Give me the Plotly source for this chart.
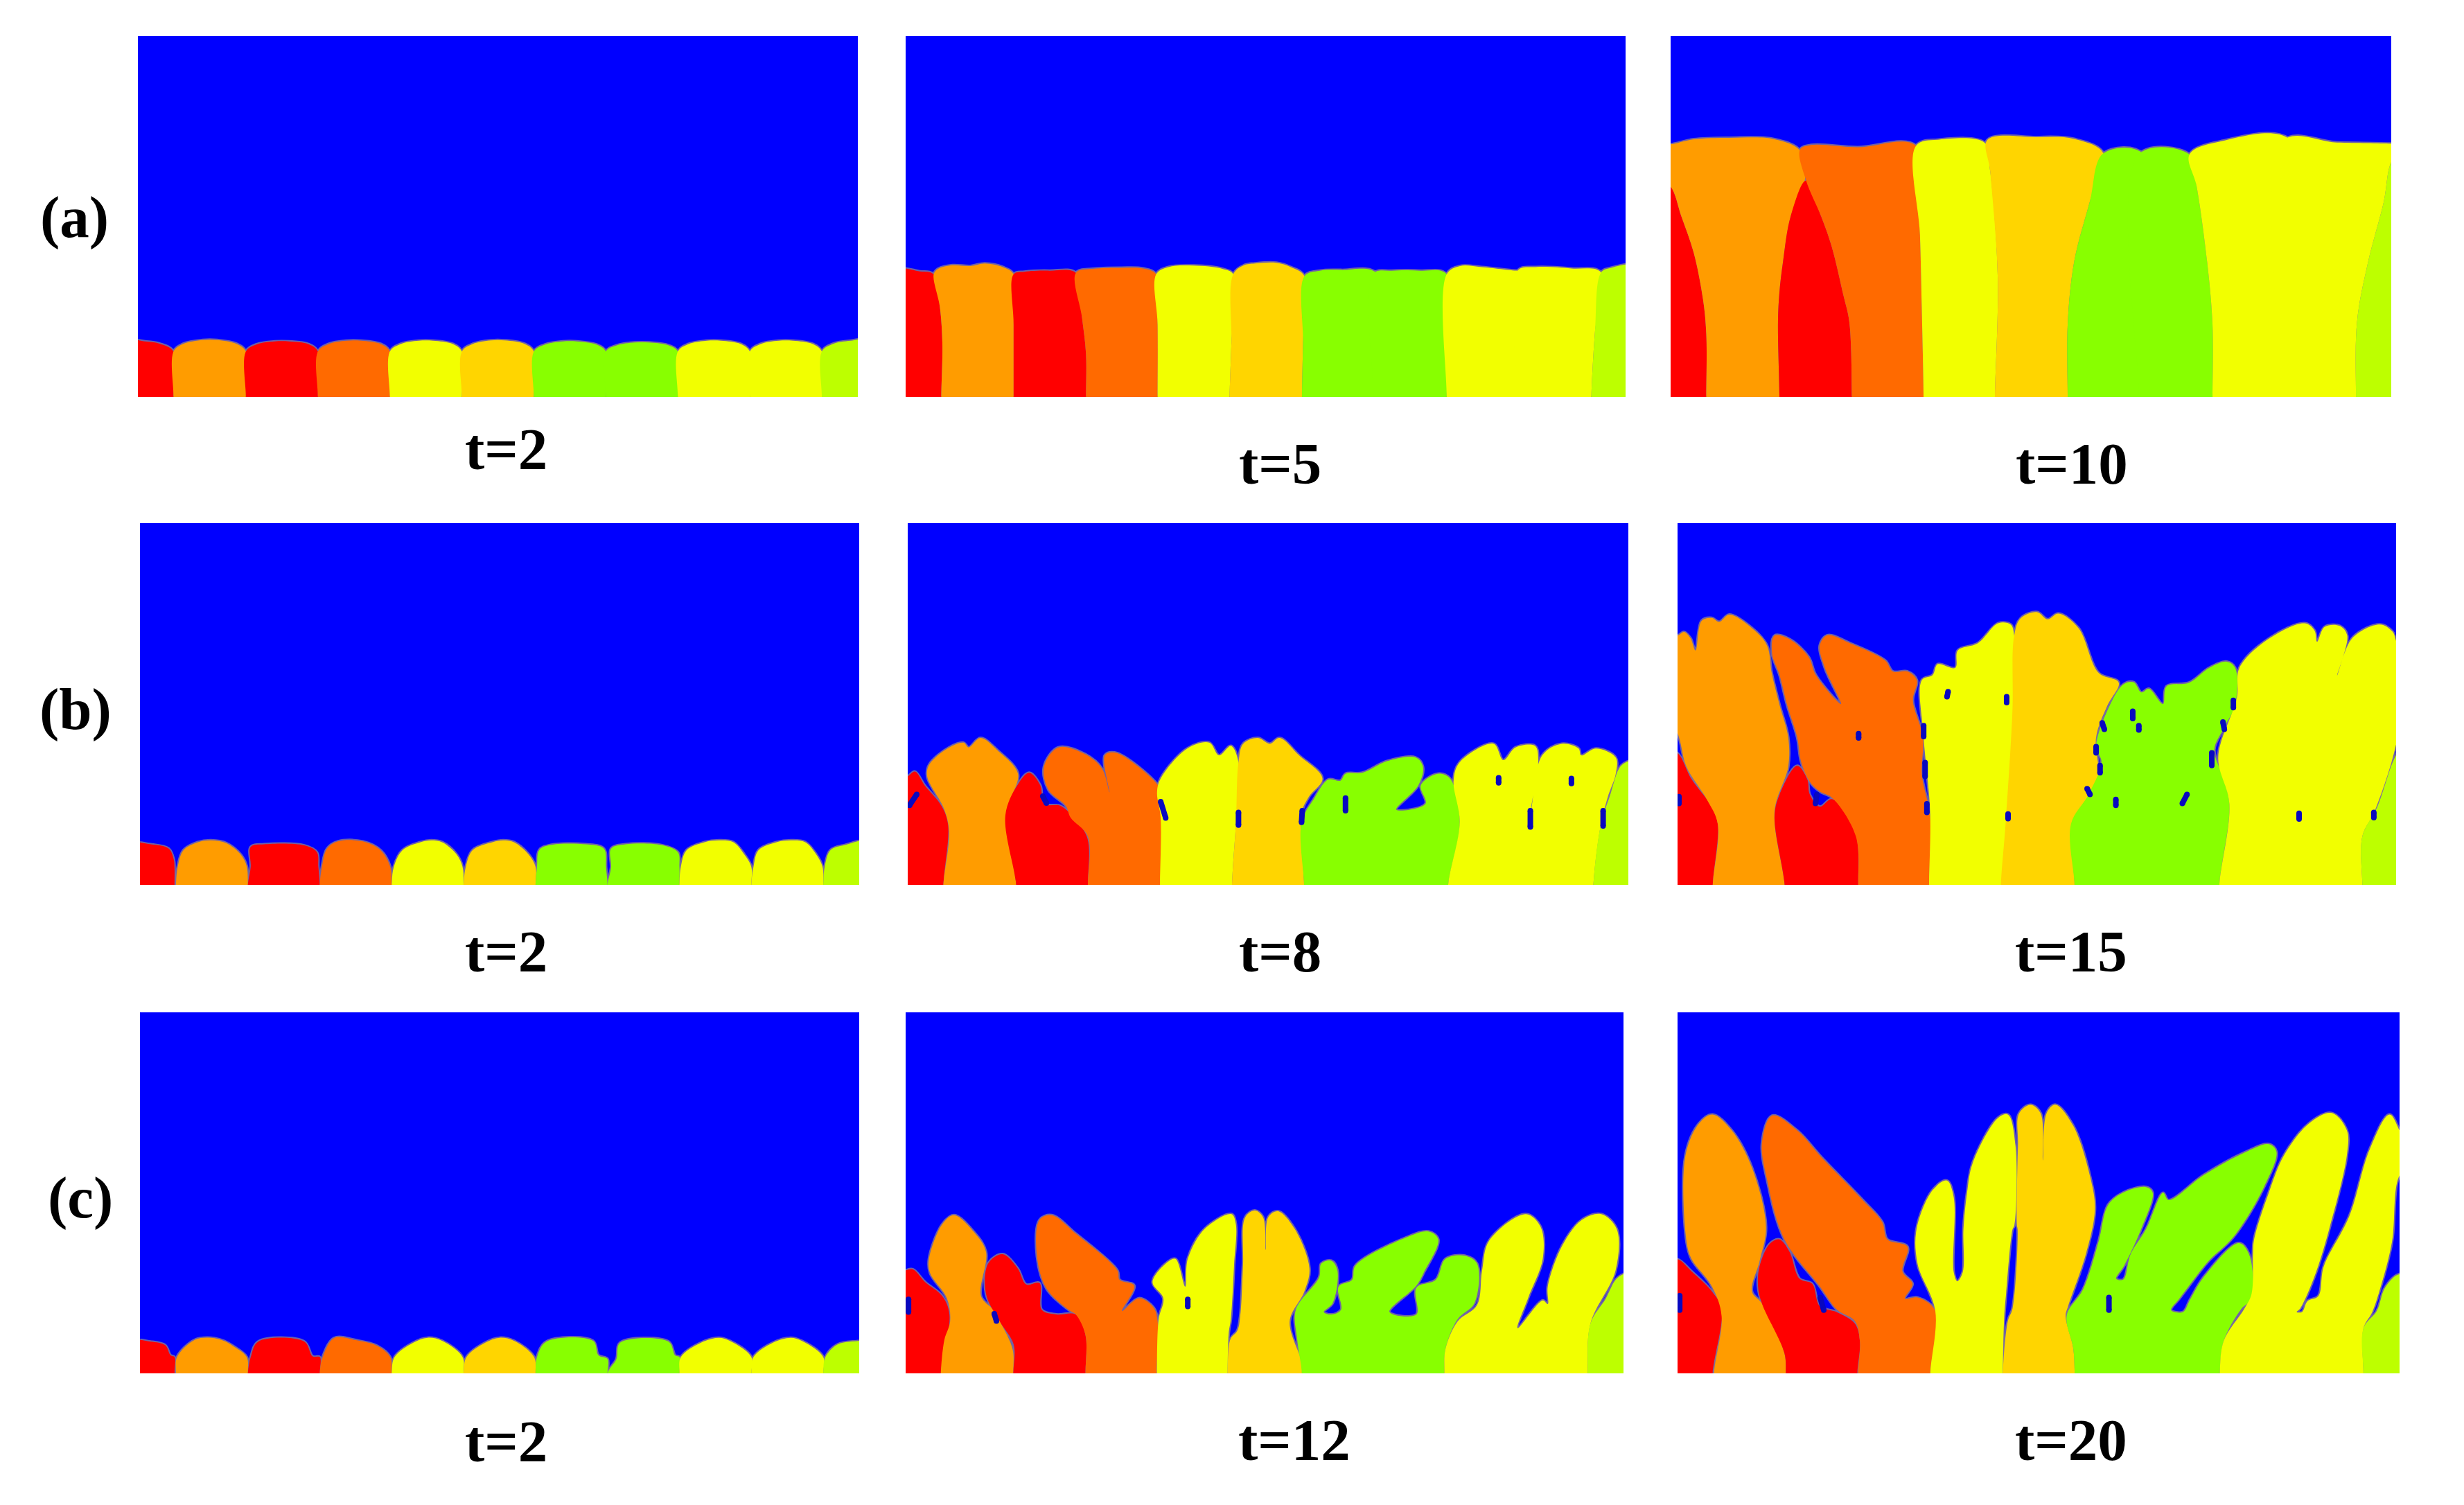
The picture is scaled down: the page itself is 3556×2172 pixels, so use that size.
import plotly.graph_objects as go

# grain colours, left to right along the base
grain_colors = ["#FF0000", "#FF9C00", "#FF0000", "#FF6A00", "#F2FF00", "#FFD500",
                "#88FF00", "#88FF00", "#F2FF00", "#F2FF00", "#BDFF00"]
blue = "#0000FF"

time_labels = ["t=2", "t=5", "t=10", "t=2", "t=8", "t=15", "t=2", "t=12", "t=20"]
row_labels = ["(a)", "(b)", "(c)"]

# grain outlines: box is 200 wide, 100 high
a2 = [
    [(-3,0),(-3,15.4),(2,15.4),(6,14.8),(9.9,12.6),(9.9,0)],
    [(9.9,0),(9.9,12.6),(12.5,14.7),(18,15.8),(22,15.8),(27.5,14.7),(30,12.6),(30,0)],
    [(30,0),(30,12.6),(33,14.6),(38,15.4),(42,15.4),(47.5,14.6),(50,12.6),(50,0)],
    [(50,0),(50,12.6),(53,14.7),(58,15.6),(62,15.6),(67.5,14.7),(70,12.6),(70,0)],
    [(70,0),(70,12.6),(73,14.7),(78,15.6),(82,15.6),(87.5,14.7),(90,12.6),(90,0)],
    [(90,0),(90,12.6),(93,14.7),(98,15.7),(102,15.7),(107.5,14.7),(110,12.6),(110,0)],
    [(110,0),(110,12.6),(113,14.5),(118,15.4),(122,15.4),(127.5,14.5),(130,12.6),(130,0)],
    [(130,0),(130,12.6),(133,14.3),(138,15.1),(142,15.1),(147.5,14.3),(150,12.6),(150,0)],
    [(150,0),(150,12.6),(153,14.7),(158,15.6),(162,15.6),(167.5,14.7),(170,12.6),(170,0)],
    [(170,0),(170,12.6),(173,14.7),(178,15.6),(182,15.6),(187.5,14.7),(190,12.6),(190,0)],
    [(190,0),(190,12.6),(193,14.7),(198,15.6),(203,15.6),(203,0)],
]
a5 = [
    [(-3,0),(-3,35),(4,34.8),(7.8,34),(9.5,25),(10.2,15),(9.9,0)],
    [(9.9,0),(10.2,15),(9.5,25),(7.8,34),(9,35.5),(13,36.5),(18,36.3),(22,37),(27,36),(30,34),(30,20),(30,0)],
    [(30,0),(30,20),(30,34),(33,34.7),(40,35),(47.3,34.4),(49,22),(50.1,12),(50.1,0)],
    [(50.1,0),(50.1,12),(49,22),(47.3,34.4),(52,35.5),(60,35.8),(66,35.6),(69.6,34),(70,20),(70,0)],
    [(70,0),(70,20),(69.6,34),(73,36),(80,36.4),(88,35.5),(91,34),(90.5,15),(90,0)],
    [(90,0),(90.5,15),(91,34),(94,36.5),(97,37),(103,37.2),(107,36),(110.8,33.5),(110.4,15),(110.1,0)],
    [(110.1,0),(110.4,15),(110.8,33.5),(115,35),(121,35.2),(131,34.2),(131,0)],
    [(130,0),(130,34.2),(135,35),(143,35),(150.3,34),(150.3,0)],
    [(150.3,0),(150.3,34),(154,36.3),(160,36),(170,35),(172,35),(172,0)],
    [(170,0),(170,35),(175,36),(185,35.6),(193.2,34.5),(191.5,18),(190.5,0)],
    [(190.5,0),(191.5,18),(193.2,34.5),(196,35.8),(203,36),(203,0)],
]
a10 = [
    [(-3,0),(-3,60),(0,58.3),(3,50),(6.4,40),(9,27),(9.9,17.5),(9.9,0)],
    [(9.9,0),(9.9,17.5),(9,27),(6.4,40),(3,50),(0,58.3),(-3,60),(-3,70),(0,70),(6.4,71.4),(16.3,71.8),(28.4,71.5),(35.9,68.3),(37.3,60.4),(33.3,50),(31.2,37.5),(30.2,29),(29.8,20.8),(30.2,0)],
    [(30.2,0),(29.8,20.8),(30.2,29),(31.2,37.5),(33.3,50),(37.6,60),(41.8,50),(44.7,41.7),(48,28),(49.6,20.8),(50.3,0)],
    [(50.3,0),(49.6,20.8),(48,28),(44.7,41.7),(41.8,50),(37.6,60),(35.9,68.5),(39,69.8),(51.8,69.2),(68.1,69.6),(69.2,45),(69.7,25),(70.2,0)],
    [(70.2,0),(69.7,25),(69.2,45),(68.1,69.6),(74.5,71.3),(87.2,70.4),(88.7,62.5),(90.8,33),(90,0)],
    [(90,0),(90.8,33),(88.7,62.5),(87.9,71.2),(101.4,72),(112,71.5),(120.1,67.5),(116.3,54),(112,37.5),(110.2,20),(110.2,0)],
    [(110.2,0),(110.2,20),(112,37.5),(116.3,54),(120.1,67.5),(131.2,67.3),(131.2,0)],
    [(130,0),(130,67.3),(144,67.2),(146,58.3),(148.9,37.5),(150.4,20),(150.4,0)],
    [(150.4,0),(150.4,20),(148.9,37.5),(146,58.3),(144,67.2),(152.5,70.8),(172.3,71),(172.3,0)],
    [(170,0),(170,71),(185,70.5),(200,70.2),(203,70),(203,68),(200,65),(197.9,54),(193.6,37.5),(190.5,20.8),(190.2,0)],
    [(190.2,0),(190.5,20.8),(193.6,37.5),(197.9,54),(200,65),(203,68),(203,0)],
]

b2 = [
    [(-3,0),(-3,11.2),(3,11.2),(8,10),(9.4,7),(9.6,4.8),(9.6,0)],
    [(10,0),(10.5,5),(12.1,9.6),(16.1,11.8),(19.8,12.3),(24.1,11.5),(28.1,8.3),(29.7,5.1),(30,0)],
    [(30,0),(30.8,5),(30.8,10.5),(34.5,11.2),(45.7,10.9),(49.2,9),(49.6,5),(50,0)],
    [(50,0),(50.6,5),(52,10),(55,12),(62,12),(67,9.5),(69.6,5),(70,0)],
    [(70,0),(70.6,5),(73,9.6),(78,11.8),(81,12.3),(84,11.8),(88,8.5),(89.7,5),(90,0)],
    [(90,0),(90.6,5),(92.5,9.6),(98,11.8),(101,12.3),(104,11.8),(108,8.5),(110,5),(110,0)],
    [(110,0),(110.4,5),(111,9.6),(114,11),(124,11.2),(129,10),(129.6,4.8),(130,0)],
    [(130,0),(131,4.8),(131,10),(135,11.2),(145,11),(149.6,9),(150,5),(150,0)],
    [(150,0),(150.4,5),(152,9.6),(157,11.8),(161,12.3),(165,11.8),(168,8.5),(170,5),(170,0)],
    [(170,0),(170.6,5),(172,9.6),(177,11.8),(181,12.3),(185,11.8),(188,8.5),(189.8,5),(190,0)],
    [(190,0),(190.4,5),(192,9.6),(196,11),(203,12),(203,0)],
]
c2 = [
    [(-3,0),(-3,8.8),(3,8.8),(7,7.8),(8.5,5),(9.6,4.5),(9.6,0)],
    [(10,0),(10.3,4.5),(15.3,9.3),(19.8,9.85),(23.3,9),(26,7.5),(29.7,4.5),(30,0)],
    [(30,0),(30.8,4.5),(32.9,8.8),(45.7,8.8),(48,4.7),(50,4.5),(50,0)],
    [(50,0),(50.8,4.5),(54,9.8),(60,9.2),(66,7.6),(69.6,4.5),(70,0)],
    [(70,0),(70.8,4.5),(76,8.5),(80,9.85),(84,9),(89.7,4.5),(90,0)],
    [(90,0),(90.8,4.5),(96,8.5),(100,9.85),(104,9),(109.6,4.5),(110,0)],
    [(110,0),(110.4,4.5),(113,8.8),(126,9),(127.5,5),(130,4),(130,0)],
    [(130,0),(132.5,4),(133.5,8.5),(147,8.8),(148.8,5),(150,4.5),(150,0)],
    [(150,0),(150.4,4.5),(156,8.5),(161,9.85),(164,9),(170,4.5),(170,0)],
    [(170,0),(170.6,4.5),(176,8.5),(181,9.85),(184,9),(190,4.5),(190,0)],
    [(190,0),(190.6,4.5),(194,8),(200,9),(203,9.5),(203,0)],
]

b8 = [
    [(-3,0),(-3,29),(0,30),(2,31.3),(4.7,27.5),(9.4,21.8),(11.2,16.6),(9.9,0)],
    [(9.9,0),(11.5,14.7),(10.1,21),(5.4,30),(6,33.3),(11.5,38),(15.5,39.3),(16.9,38),(20.2,40.6),(25,37.1),(30.6,30.7),(28.3,23),(27.4,17.9),(30.1,0)],
    [(30.1,0),(27.1,19.2),(30.4,27.5),(33.7,31),(36.8,27.5),(37.8,22.4),(42.5,21.8),(46.6,17.9),(49.9,12.8),(50,0)],
    [(50,0),(50,13.4),(45.2,18.6),(43.9,21.8),(39.1,26.2),(37.8,32.6),(41.8,38),(49.3,36.1),(54,32),(56,25.6),(54.7,35.8),(57.4,36.6),(64.1,32.6),(70.8,25.6),(72.2,18.6),(70,0)],
    [(70,0),(70.2,18.6),(69.2,25.6),(70.2,29.4),(77.6,37.7),(83.7,39.3),(86.4,35.8),(89.7,38.4),(91.8,33.9),(91.3,20),(90,0)],
    [(90,0),(91.1,17.3),(91.8,33.9),(93.1,39),(97.2,40.6),(100.5,39),(103.2,40.6),(108.6,35.8),(115.1,29.4),(111.3,24.3),(109.3,19.8),(110,0)],
    [(110,0),(109.3,17.3),(112.7,23.7),(116.7,29.1),(120.1,28.8),(121.5,30.7),(126.2,31),(133,34.2),(141,35.2),(143,32.6),(141.7,27.5),(135.6,20.8),(143.7,22.4),(142.4,27.5),(147.1,30.7),(150.5,29.4),(153.2,17.3),(150,0)],
    [],
    [(150,0),(153.2,17.3),(151.5,28.8),(153.2,33.9),(162.6,39),(165.3,34.5),(168.7,38),(174.1,38.4),(175,34.5),(173.4,23.7),(172,16),(173,20.5),(176.1,35.8),(181.5,39),(186.2,37.7),(186.9,35.8),(191,37.7),(196.5,35.2),(196.5,30.7),(194.3,24.3),(192.3,16.3),(190.3,0)],
    [],
    [(190.3,0),(192.3,16.3),(195,25),(197.7,32.6),(200,34.2),(203,35),(203,0)],
]
b8_holes = [(0.5,22,2.5,25),(91.8,16.5,91.8,20),(121.5,20.5,121.5,24),(164,28.2,164,29.6),
            (184.2,28,184.2,29.4),(172.8,16,172.8,20.5),(193,16.3,193,20.5),(109.3,17.3,109.5,20.5),
            (38.5,22.6,37.5,24.5),(71.6,18.5,70.2,23)]

b15 = [
    [(-3,0),(-3,37),(0,36.4),(3.9,29.2),(9.5,21.6),(11.2,16.8),(9.8,0)],
    [(9.8,0),(11.2,16.8),(8.1,23.7),(2.5,32.6),(0.4,40.8),(-3,50),(-3,68.9),(0,68.9),(1.8,69.9),(3.6,68.2),(5,64.8),(6.7,73),(9.5,73.8),(11.6,72.7),(14.4,74.7),(20.7,71),(24.9,66.2),(26.2,58.6),(28.4,49.7),(30.8,40.8),(30.8,32.6),(27,20.3),(29.8,0)],
    [(29.8,0),(27,18.9),(28.4,25),(33.3,32.9),(36.1,29.2),(36.8,25),(39.6,21.6),(43,23.7),(49.4,14.8),(50.3,0)],
    [(50.3,0),(49.6,13.5),(43.1,24),(39.6,25.8),(36.8,28.5),(34.4,34),(33.3,40.8),(30.5,49.7),(28.4,58),(26.3,64),(27,68.9),(31.2,67.9),(36.5,63),(38.5,58),(45.5,50),(41,60),(39.6,66.2),(41.7,69),(48,66.8),(57.8,62),(59.9,59),(64,59),(66.6,56.6),(65.5,51),(68.3,40.8),(68,30.5),(70.3,18.9),(70,0)],
    [(70,0),(70.3,20.3),(68.5,40.8),(68,56.6),(71,58),(72.4,61),(77.3,60),(78,64.8),(83.6,66.8),(89.2,72.3),(92.7,72),(93.7,68.9),(93,40),(90.6,0)],
    [(90,0),(91.3,16.8),(93.2,47.7),(93.7,68.9),(95.5,73.7),(100.1,75.4),(103,73.4),(106,75),(111.6,71),(117.2,58.6),(122.8,55.9),(119.7,49.7),(116.5,40.8),(117,28.5),(110.2,16.2),(110.5,0)],
    [(110.5,0),(109.5,16.8),(114.4,25),(118,34),(116.5,38),(120,49),(124.2,55.5),(127,56),(129.1,53.2),(131.2,54.2),(135.1,50),(136.1,54.9),(142.4,55.9),(148,60),(152.9,61.7),(155.2,60),(155.2,49.7),(152.2,43.6),(149.4,37.4),(151.5,30.5),(153.6,22.3),(150.8,0)],
    [],
    [(150.8,0),(153.6,22.3),(150.5,35.3),(155.7,51.8),(156.4,60),(164.8,68.2),(174.6,72.3),(177.3,70.3),(178,67.2),(180.1,71.3),(184.3,71.6),(186.4,68.9),(183.6,57.9),(187.8,68.2),(195.5,72),(199,70),(200,67.5),(203,60),(200,38.8),(194,20.3),(190.6,13.4),(190.6,0)],
    [],
    [(190.6,0),(190.6,13.4),(194.8,21.6),(199.7,35.3),(203,40),(203,0)],
]
b15_holes = [(75,52,75.3,53.4),(91.6,50.4,91.6,52),(50.4,40.6,50.4,41.8),(126.7,46,126.7,48),(128.4,42.8,128.4,44),
             (118.8,43,118.2,44.8),(152.2,43,151.8,45),(116.5,36.5,116.5,38.2),(148.7,33,148.7,36.5),(117.6,31,117.6,33),
             (114.8,25,114,26.6),(122,22,122,23.6),(140.5,22.5,141.8,25),(92,18.3,92,19.6),(173,18.2,173,19.8),
             (193.8,18.6,193.8,20),(0.4,22.5,0.4,24.4),(38.4,22.5,38.8,25),(68.9,30,68.9,33.8),(69.4,20,69.4,22.4),
             (68.5,41,68.5,44),(154.7,49,154.7,51)]

c12 = [
    [(-3,0),(-3,27),(0,28.5),(2,28.8),(5.4,25.3),(10.2,21.4),(12.2,16.3),(9.8,0)],
    [(9.8,0),(10.8,9.3),(12.4,14.4),(11.5,20.8),(6.8,27.8),(6.5,31.7),(10.2,41.3),(13.5,43.8),(18.9,39.3),(22.4,33.6),(21,21.4),(24.4,17.6),(26.4,14.1),(29.8,6.7),(30,0)],
    [(30,0),(30.1,8),(26.4,14.1),(22.4,22),(23,30.4),(27,33),(31.2,29.1),(33.6,24.6),(37.3,25),(37.9,17.6),(42,16.3),(47.4,16.3),(50.1,10.6),(50.1,0)],
    [(50.1,0),(50.1,10.6),(47.4,16.3),(45.4,17.6),(39.3,23.4),(36.6,32.3),(37.3,42.5),(40.7,43.8),(47.4,38.7),(59,28.5),(59.6,25.9),(63.7,24.3),(60.3,17.3),(65,20.8),(69.1,18.2),(70.2,14.4),(69.9,0)],
    [(70,0),(70.5,15),(71.8,20.8),(68.8,25.3),(73.2,31),(75.2,31.7),(77.9,24),(78.6,31.7),(83.3,40),(90.8,44.1),(92,41.3),(91.5,30),(90.6,15),(90,11),(89.7,0)],
    [(89.7,0),(90.5,9.5),(92.4,11.8),(93.2,15.7),(94,30),(94.6,43.2),(97.3,45.1),(99.6,43.2),(100.3,34.2),(101,43.2),(103.7,44.9),(108.4,40),(112.5,29.1),(111.1,22.7),(107,14.4),(110.4,2.9),(110.4,0)],
    [(110.4,0),(109.1,9.3),(108.7,17.6),(115.2,26.6),(115.8,30.4),(118.6,31.2),(120.3,28.5),(119,19.5),(116.5,17),(118.6,16.3),(121.3,17.6),(120.6,24),(124.4,25.9),(125.3,29.8),(139.6,37.7),(145.7,39.3),(148.4,37.1),(144.3,27.8),(142.3,24.3),(134.8,17),(142.3,16.3),(142.3,23.7),(147.7,25.9),(150.4,31.7),(155.8,32.6),(159.2,30.4),(158.5,19.5),(153.8,15),(150.4,6.7),(150.1,0)],
    [],
    [(150.1,0),(150.4,6.7),(153.8,14.4),(159.2,18.9),(160.6,28.5),(162.6,36.8),(172.8,44.1),(176.9,40.6),(177.5,31.7),(173.4,20.8),(170.5,12.5),(177.5,20.2),(178.9,19.2),(178.9,24),(183,35.5),(188.4,42.5),(193.8,44.1),(198.1,40),(197.8,28.5),(190.8,13.8),(190,0)],
    [],
    [(190,0),(190.8,13.8),(195.1,20.8),(197.8,25.9),(200,27.5),(203,28),(203,0)],
]
c12_holes = [(78.6,18.5,78.6,20.5),(0.8,17,0.8,20.5),(25.3,14.5,24.7,16.5)]

c20 = [
    [(-3,0),(-3,31),(0,31.6),(3.9,28.2),(9.5,22.7),(12.2,17.9),(9.7,0)],
    [(10.1,0),(12.2,15.9),(9.5,24.1),(3.9,31.6),(2.5,36.4),(2.2,60.4),(6,69.3),(9.7,71.7),(15,67.3),(20.6,57),(24.5,40.5),(22.7,31),(20.6,22.7),(23.4,19.3),(29.6,5.6),(30,0)],
    [(30,0),(29.6,5.6),(23.4,19.3),(22.3,24.1),(22.7,29.6),(25.5,35.8),(28.2,37.1),(31,33.7),(33.8,26.2),(37.3,24.8),(39.4,18.6),(44.2,16.9),(49.1,13.8),(50.5,9),(49.8,0)],
    [(50,0),(50.5,9),(49.1,14.5),(44.2,17.6),(39.4,24.1),(29.6,37.1),(24.8,53.6),(23.4,63.8),(26.2,71.4),(33.1,67.3),(40,59.7),(51.2,48.1),(56.7,41.9),(58.1,37.1),(63.7,35.1),(62.3,28.2),(65.1,24.8),(63,20.7),(66.5,21),(71.4,17.3),(70,0)],
    [(70,0),(71.4,17.3),(66.5,30.3),(66.2,39.9),(70.7,50.8),(74.6,53.4),(76.5,48.8),(76.5,28),(77.5,25.5),(79,28),(79.2,40),(80.2,50.1),(81.8,58.4),(88.7,70.7),(91.5,71.7),(93.6,63.2),(93.3,41),(92.8,39.9),(91,22),(90.5,15.9),(90.1,0)],
    [(90.1,0),(91.5,14.5),(92.8,18),(94.2,39.9),(94,41),(94.3,63.2),(94.6,72),(97.8,74.4),(100.6,72),(101.2,59),(102.2,72),(104.7,74.4),(109.6,68.6),(114.5,53.6),(115.6,45.3),(113.1,33),(108.2,18.6),(107.5,15.9),(109.6,7),(110,0)],
    [(110,0),(109.6,7),(107.8,16),(112.4,23.4),(116.6,36.4),(119.3,46.7),(123.5,50.1),(129.8,51.6),(131.6,50.1),(128.4,39.9),(123.8,30),(121.5,26.2),(123.5,26),(125.5,33),(129.8,40),(134.5,50),(136,48),(145.7,54.9),(156.9,61.1),(163.8,63.5),(165.9,61.4),(162.4,51.5),(154,37.8),(147,31),(141.5,24),(139,20.7),(136.7,17.5),(140,17),(142,20.5),(146,27),(155.5,36.1),(158.3,33),(159,20.7),(156.2,17.9),(151.3,9),(150.2,0)],
    [],
    [(150.2,0),(151.3,9),(157,17.9),(159,22),(159.4,33),(159.7,37.1),(163.8,50.1),(168,60.4),(175,69.3),(181.2,72.1),(185.4,67.3),(185.4,60.4),(180.5,39.9),(176.5,27),(172.5,18),(171.5,17),(173,17),(174.5,20),(177.5,21.4),(179,29.6),(186.1,43.6),(191.7,62),(197.2,71.7),(200,67.3),(203,60),(199.5,53.6),(197.9,36.4),(194.4,22.7),(192.4,16.9),(190,12.5),(190,0)],
    [],
    [(190,0),(190,12.5),(193.7,17.3),(195.8,23.4),(198.6,26.8),(200,27.5),(203,28),(203,0)],
]
c20_holes = [(119.5,17.5,119.5,21),(0.6,17.5,0.6,21.5),(40.5,17.5,39.5,21)]

panels = [a2, a5, a10, b2, b8, b15, c2, c12, c20]
panel_holes = [[], [], [], [], b8_holes, b15_holes, [], c12_holes, c20_holes]

# panel rectangles on the 3556x2172 page: left, right, top, bottom
W, H = 3556, 2172
boxes = [(199,1238,52,573), (1307,2346,52,573), (2411,3451,52,573),
         (202,1240,755,1277), (1310,2350,755,1277), (2421,3458,755,1277),
         (202,1240,1461,1982), (1307,2343,1461,1982), (2421,3463,1461,1982)]
label_pos = [(730,648), (1847,669), (2990,669),
             (730,1373), (1847,1373), (2989,1373),
             (730,2080), (1868,2078), (2989,2078)]
row_pos = [(107,313), (109,1023), (116,1728)]

fig = go.Figure()

for n, (outlines, holes) in enumerate(zip(panels, panel_holes)):
    ax = "" if n == 0 else str(n + 1)
    # run every outline below the axis so the base is clipped flat
    closed = []
    for color, pts in zip(grain_colors, outlines):
        if pts:
            xs = [pts[0][0]] + [p[0] for p in pts] + [pts[-1][0]]
            ys = [-8] + [p[1] for p in pts] + [-8]
            closed.append((color, xs, ys))
    # soft rim where a grain meets the blue, covered between grains by the fills
    for color, xs, ys in closed:
        fig.add_trace(go.Scatter(x=xs, y=ys, mode="lines", xaxis="x" + ax, yaxis="y" + ax,
                                 line=dict(color="rgba(130,115,150,0.85)", width=4,
                                           shape="spline", smoothing=1.0, simplify=False),
                                 hoverinfo="skip", showlegend=False))
    for color, xs, ys in closed:
        fig.add_trace(go.Scatter(x=xs, y=ys, mode="lines", fill="toself", fillcolor=color,
                                 xaxis="x" + ax, yaxis="y" + ax,
                                 line=dict(color=color, width=0, shape="spline", smoothing=1.0, simplify=False),
                                 hoverinfo="skip", showlegend=False))
    if holes:
        hx, hy = [], []
        for x0, y0, x1, y1 in holes:
            hx += [x0, x1, None]
            hy += [y0, y1, None]
        fig.add_trace(go.Scatter(x=hx, y=hy, mode="lines+markers", xaxis="x" + ax, yaxis="y" + ax,
                                 line=dict(color="#0808C0", width=8),
                                 marker=dict(color="#0808C0", size=8),
                                 hoverinfo="skip", showlegend=False))

    left, right, top, bottom = boxes[n]
    fig.update_layout({
        "xaxis" + ax: dict(domain=[left / W, right / W], range=[0, 200], visible=False, fixedrange=True),
        "yaxis" + ax: dict(domain=[1 - bottom / H, 1 - top / H], range=[0, 100], visible=False, fixedrange=True),
    })

serif = dict(family="Liberation Serif", size=85, color="#000000")
for text, (x, y) in zip(time_labels + row_labels, label_pos + row_pos):
    fig.add_annotation(text="<b>" + text + "</b>", x=x / W, y=1 - y / H, xref="paper", yref="paper",
                       xanchor="center", yanchor="middle", showarrow=False, font=serif)

fig.update_layout(width=W, height=H, margin=dict(l=0, r=0, t=0, b=0), autosize=False,
                  paper_bgcolor="#FFFFFF", plot_bgcolor=blue, showlegend=False)

fig.write_html("out.html", config={"displayModeBar": False}, post_script="document.body.style.margin='0';")
